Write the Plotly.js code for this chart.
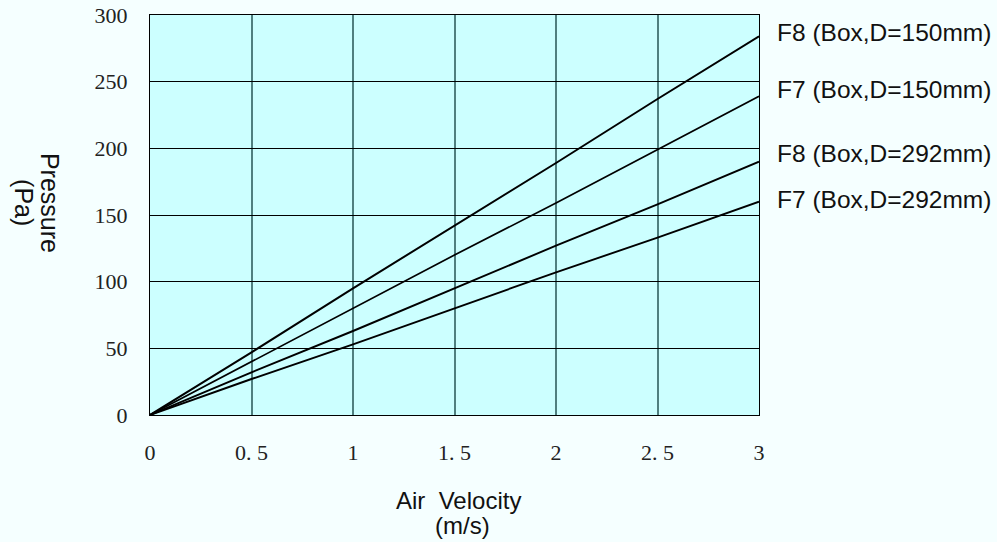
<!DOCTYPE html>
<html>
<head>
<meta charset="utf-8">
<script src="https://cdn.plot.ly/plotly-3.0.1.min.js"></script>
<style>
html,body{margin:0;padding:0;background:#F5FFFF;}
#chart{width:997px;height:542px;}
</style>
</head>
<body>
<div id="chart"></div>
<script>
// ---- data ----
const velocity = [0, 0.5, 1, 1.5, 2, 2.5, 3];
const seriesNames = ["F8 (Box,D=150mm)", "F7 (Box,D=150mm)", "F8 (Box,D=292mm)", "F7 (Box,D=292mm)"];
const f8_150 = [0, 47, 95, 142, 189, 237, 284];
const f7_150 = [0, 40, 80, 120, 159, 199, 239];
const f8_292 = [0, 32, 63, 95, 127, 158, 190];
const f7_292 = [0, 27, 53, 80, 107, 133, 160];
const xTickVals = [0, 0.5, 1, 1.5, 2, 2.5, 3];
const xTickText = ["0", "0. 5", "1", "1. 5", "2", "2. 5", "3"];
const yTickVals = [0, 50, 100, 150, 200, 250, 300];
const yTickText = ["0", "50", "100", "150", "200", "250", "300"];
const xTitle = ["Air  Velocity", "(m/s)"];
const yTitle = ["Pressure", "(Pa)"];

// ---- styles ----
const allSeries = [f8_150, f7_150, f8_292, f7_292];
const lineWidths = [2, 1.7, 1.9, 1.9];
const labelShifts = [4, 7, 8, 2];

const traces = allSeries.map((ys, i) => ({
  x: velocity, y: ys, type: 'scatter', mode: 'lines', name: seriesNames[i],
  line: {color: '#000000', width: lineWidths[i]}, hoverinfo: 'skip'
}));

const sans = 'Liberation Sans, Arial, sans-serif';
const serif = 'Liberation Serif, Times New Roman, serif';

const annotations = [];
allSeries.forEach((ys, i) => {
  annotations.push({
    xref: 'paper', yref: 'y', x: 1, y: ys[ys.length - 1], xanchor: 'left', yanchor: 'middle',
    xshift: 16, yshift: labelShifts[i], text: seriesNames[i], showarrow: false,
    font: {family: sans, size: 24.5, color: '#111'}
  });
});
annotations.push({xref: 'paper', yref: 'paper', x: 0.506, y: -0.213, text: xTitle[0], showarrow: false,
  xanchor: 'center', yanchor: 'middle', font: {family: sans, size: 24, color: '#111'}});
annotations.push({xref: 'paper', yref: 'paper', x: 0.513, y: -0.275, text: xTitle[1], showarrow: false,
  xanchor: 'center', yanchor: 'middle', font: {family: sans, size: 24, color: '#111'}});
annotations.push({xref: 'paper', yref: 'paper', x: -0.164, y: 0.53, text: yTitle[0], showarrow: false, textangle: 90,
  xanchor: 'center', yanchor: 'middle', font: {family: sans, size: 25, color: '#111'}});
annotations.push({xref: 'paper', yref: 'paper', x: -0.207, y: 0.53, text: yTitle[1], showarrow: false, textangle: 90,
  xanchor: 'center', yanchor: 'middle', font: {family: sans, size: 25, color: '#111'}});

const layout = {
  width: 997, height: 542,
  margin: {l: 150, r: 238, t: 15, b: 127, pad: 0},
  paper_bgcolor: '#F5FFFF',
  plot_bgcolor: '#CCFFFF',
  showlegend: false,
  xaxis: {
    range: [0, 3], tickvals: xTickVals, ticktext: xTickText,
    showgrid: true, gridcolor: '#4F7F7F', gridwidth: 2,
    zeroline: false, showline: true, linecolor: '#000', linewidth: 1, mirror: true,
    ticks: '', ticklabelstandoff: 18,
    tickfont: {family: serif, size: 22, color: '#222'}, fixedrange: true
  },
  yaxis: {
    range: [0, 300], tickvals: yTickVals, ticktext: yTickText,
    showgrid: true, gridcolor: '#000000', gridwidth: 1,
    zeroline: false, showline: true, linecolor: '#000', linewidth: 1, mirror: true,
    ticks: '', ticklabelstandoff: 17,
    tickfont: {family: serif, size: 22, color: '#222'}, fixedrange: true
  },
  annotations: annotations
};

Plotly.newPlot('chart', traces, layout, {staticPlot: true, displayModeBar: false});
</script>
</body>
</html>
